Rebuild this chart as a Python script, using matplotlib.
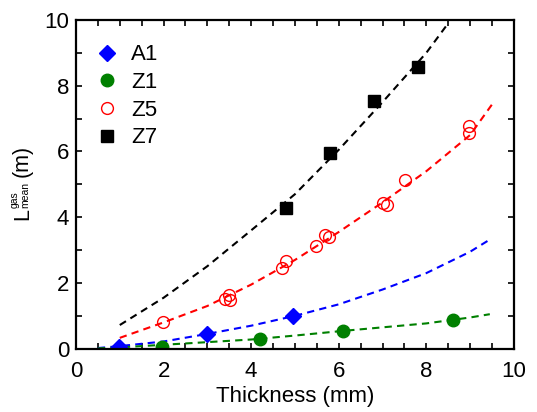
import matplotlib
matplotlib.use("Agg")
import matplotlib.pyplot as plt
from matplotlib.ticker import MultipleLocator

plt.rcParams['font.family'] = ['Liberation Sans', 'DejaVu Sans']

# measured points
a1_x = [0.98, 2.99, 4.95]
a1_y = [0.05, 0.45, 0.99]
z1_x = [1.96, 4.2, 6.09, 8.6]
z1_y = [0.05, 0.29, 0.55, 0.86]
z5_x = [1.99, 3.40, 3.50, 3.52, 4.70, 4.79, 5.49, 5.68, 5.78, 7.0, 7.11, 7.51, 8.98, 8.98]
z5_y = [0.81, 1.50, 1.63, 1.48, 2.47, 2.67, 3.12, 3.46, 3.39, 4.44, 4.37, 5.13, 6.77, 6.57]
z7_x = [4.79, 5.80, 6.81, 7.80]
z7_y = [4.28, 5.94, 7.54, 8.56]

# fitted curves
fit_a1_x = [0.5, 1, 2, 3, 4, 5, 6, 7, 8, 9, 9.45]
fit_a1_y = [0.02, 0.08, 0.22, 0.45, 0.7, 1.0, 1.35, 1.8, 2.3, 2.95, 3.32]
fit_z1_x = [0.5, 1, 2, 3, 4, 5, 6, 7, 8, 9, 9.45]
fit_z1_y = [0.01, 0.04, 0.12, 0.2, 0.28, 0.4, 0.53, 0.65, 0.77, 0.95, 1.05]
fit_z5_x = [1, 2, 3, 4, 5, 6, 7, 8, 9, 9.5]
fit_z5_y = [0.33, 0.8, 1.3, 1.95, 2.7, 3.55, 4.45, 5.4, 6.5, 7.43]
fit_z7_x = [1, 2, 3, 4, 5, 6, 7, 8, 8.5]
fit_z7_y = [0.72, 1.55, 2.51, 3.6, 4.7, 6.05, 7.5, 9.0, 9.9]

W, H = 537, 412
fig = plt.figure(figsize=(W / 100, H / 100), dpi=100)
ax = fig.add_axes([0.1415, 0.1536, 0.8155, 0.798])

dash = (0, (3.5, 2.5))
ax.plot(fit_z7_x, fit_z7_y, color='black', ls=dash, lw=1.5)
ax.plot(fit_z5_x, fit_z5_y, color='red', ls=dash, lw=1.5)
ax.plot(fit_a1_x, fit_a1_y, color='blue', ls=dash, lw=1.5)
ax.plot(fit_z1_x, fit_z1_y, color='green', ls=dash, lw=1.5)

ax.plot(a1_x, a1_y, 'D', color='blue', ms=8.5, ls='none', label='A1')
ax.plot(z1_x, z1_y, 'o', color='green', ms=9, ls='none', label='Z1')
ax.plot(z5_x, z5_y, 'o', mfc='none', mec='red', mew=1.0, ms=8.5, ls='none', label='Z5')
ax.plot(z7_x, z7_y, 's', color='black', ms=8, ls='none', label='Z7')

ax.set_xlim(0, 10)
ax.set_ylim(0, 10)
ax.xaxis.set_major_locator(MultipleLocator(2))
ax.xaxis.set_minor_locator(MultipleLocator(0.5))
ax.yaxis.set_major_locator(MultipleLocator(2))
ax.yaxis.set_minor_locator(MultipleLocator(1))
ax.tick_params(which='both', direction='in', top=True, right=True, width=1.2,
               length=4, labelsize=16)
ax.tick_params(axis='x', which='major', pad=9)
ax.tick_params(axis='y', which='major', pad=5)
for s in ax.spines.values():
    s.set_linewidth(1.6)

ax.set_xlabel('Thickness (mm)', fontsize=16, labelpad=3)

# y label: L with stacked "gas"/"mean" scripts, placed in pixels
def ytext(px, py, s, size):
    fig.text(px / W, 1 - py / H, s, rotation=90, rotation_mode='anchor',
             ha='left', va='baseline', fontsize=size)

ytext(28, 220, 'L', 15.5)
ytext(17.5, 208, 'gas', 7.5)
ytext(28.5, 208, 'mean', 7.5)
ytext(28, 177, '(m)', 15.5)

ax.legend(loc='upper left', frameon=False, fontsize=16, handlelength=1.0,
          handletextpad=0.6, labelspacing=0.3, borderaxespad=0.4,
          bbox_to_anchor=(0.004, 0.98))

fig.savefig('out.png', dpi=100)
